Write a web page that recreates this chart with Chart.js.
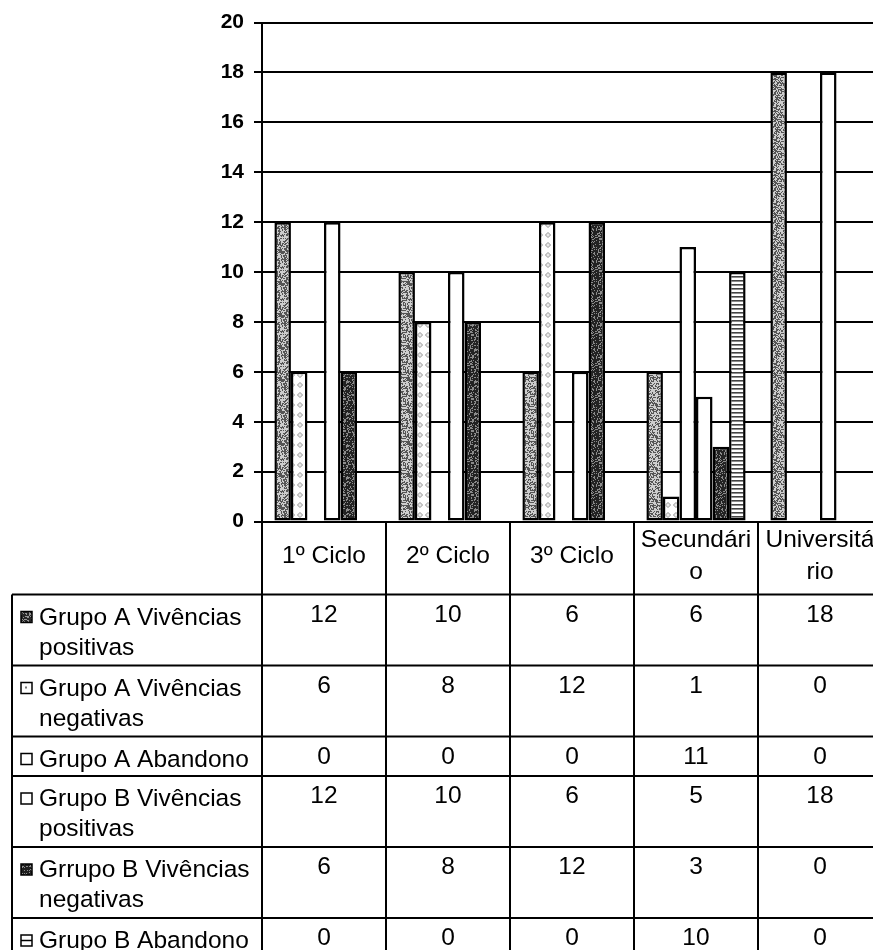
<!DOCTYPE html>
<html>
<head>
<meta charset="utf-8">
<script src="https://cdn.jsdelivr.net/npm/chart.js@4/dist/chart.umd.min.js"></script>
<style>
  html, body { margin: 0; padding: 0; background: #fff; overflow: hidden; width: 873px; height: 950px; }
  canvas { display: block; }
</style>
</head>
<body>
<canvas id="chart" width="900" height="950"></canvas>
<script>
// Categories (header cells of the data table, already split into lines)
const categories = [['1º Ciclo'], ['2º Ciclo'], ['3º Ciclo'], ['Secundári', 'o'], ['Universitá', 'rio']];

// Series names as printed in the table (line by line)
const seriesNames = [
  ['Grupo A Vivências', 'positivas'],
  ['Grupo A Vivências', 'negativas'],
  ['Grupo A Abandono'],
  ['Grupo B Vivências', 'positivas'],
  ['Grrupo B Vivências', 'negativas'],
  ['Grupo B Abandono']
];

// Values per series
const grupoAPositivas = [12, 10, 6, 6, 18];
const grupoANegativas = [6, 8, 12, 1, 0];
const grupoAAbandono  = [0, 0, 0, 11, 0];
const grupoBPositivas = [12, 10, 6, 5, 18];
const grupoBNegativas = [6, 8, 12, 3, 0];
const grupoBAbandono  = [0, 0, 0, 10, 0];

// Value axis
const yMin = 0, yMax = 20, yStep = 2;

const seriesValues = [grupoAPositivas, grupoANegativas, grupoAAbandono,
                      grupoBPositivas, grupoBNegativas, grupoBAbandono];

// ---- fill textures ----
function tileCanvas(w, h) {
  const c = document.createElement('canvas');
  c.width = w; c.height = h;
  return c;
}
function hash(x, y, s) {
  let h = (x * 374761393 + y * 668265263 + s * 982451653) | 0;
  h = Math.imul(h ^ (h >>> 13), 1274126177);
  return ((h ^ (h >>> 16)) >>> 0) / 4294967296;
}
function stipple(pDark, dark, light, seed) {
  const n = 32, c = tileCanvas(n, n), g = c.getContext('2d');
  const img = g.createImageData(n, n);
  for (let y = 0; y < n; y++) for (let x = 0; x < n; x++) {
    const v = hash(x, y, seed) < pDark ? dark : light;
    const i = (y * n + x) * 4;
    img.data[i] = img.data[i + 1] = img.data[i + 2] = v;
    img.data[i + 3] = 255;
  }
  g.putImageData(img, 0, 0);
  return g.createPattern(c, 'repeat');
}
function diamonds() {
  const c = tileCanvas(8, 10), g = c.getContext('2d');
  g.fillStyle = '#fff'; g.fillRect(0, 0, 8, 10);
  g.strokeStyle = '#8a8a8a'; g.lineWidth = 1;
  g.beginPath();
  g.moveTo(4, 2.5); g.lineTo(6.5, 5); g.lineTo(4, 7.5); g.lineTo(1.5, 5); g.closePath();
  g.stroke();
  g.fillStyle = '#aaa'; g.fillRect(3.5, 4.5, 1, 1);
  return g.createPattern(c, 'repeat');
}
function stripes() {
  const c = tileCanvas(4, 4), g = c.getContext('2d');
  g.fillStyle = '#fff'; g.fillRect(0, 0, 4, 4);
  g.fillStyle = '#444'; g.fillRect(0, 0, 4, 1.6);
  return g.createPattern(c, 'repeat');
}

const fills = [
  stipple(0.5, 85, 205, 1),
  diamonds(),
  '#ffffff',
  '#ffffff',
  stipple(0.75, 35, 140, 2),
  stripes()
];
const iconFills = [
  stipple(0.7, 40, 150, 3),
  '#ffffff',
  '#ffffff',
  '#ffffff',
  stipple(0.75, 30, 140, 4),
  '#ffffff'
];

const FONT = '"Liberation Sans", Arial, sans-serif';

// ---- data table under the plot ----
const dataTable = {
  id: 'dataTable',
  afterDraw(chart) {
    const ctx = chart.ctx;
    const area = chart.chartArea;
    const xs = chart.scales.x;
    const colW = (area.right - area.left) / categories.length;
    const top = area.bottom;
    const headerBottom = top + 73;
    const boxLeft = 12;
    const lineGap = 31.5;
    const rowH = seriesNames.map(l => 8 + lineGap * l.length);
    const endY = chart.height + 20;

    ctx.save();
    ctx.strokeStyle = '#000';
    ctx.lineWidth = 2;
    ctx.fillStyle = '#000';
    ctx.font = '24.5px ' + FONT;

    // vertical column lines
    for (let i = 0; i <= categories.length; i++) {
      const x = Math.round(area.left + i * colW);
      ctx.beginPath(); ctx.moveTo(x, top); ctx.lineTo(x, endY); ctx.stroke();
    }
    // left box border
    ctx.beginPath(); ctx.moveTo(boxLeft, headerBottom); ctx.lineTo(boxLeft, endY); ctx.stroke();

    // header labels
    ctx.textAlign = 'center';
    ctx.textBaseline = 'alphabetic';
    const hc = (top + headerBottom) / 2;
    categories.forEach((lines, i) => {
      const cx = xs.getPixelForValue(i);
      const first = hc - 3.5 + 8.6 - (lines.length - 1) * lineGap / 2;
      lines.forEach((t, k) => ctx.fillText(t, cx, first + k * lineGap));
    });

    // rows
    let y = headerBottom;
    ctx.beginPath(); ctx.moveTo(boxLeft, y); ctx.lineTo(area.right, y); ctx.stroke();
    seriesNames.forEach((lines, r) => {
      // legend key
      ctx.fillStyle = iconFills[r];
      ctx.fillRect(21, y + 17, 11, 11);
      ctx.lineWidth = 1.5;
      ctx.strokeRect(21, y + 17, 11, 11);
      if (r === 1) { ctx.fillStyle = '#777'; ctx.fillRect(25, y + 21, 2, 2); }
      if (r === 5) { ctx.beginPath(); ctx.moveTo(21, y + 22.5); ctx.lineTo(32, y + 22.5); ctx.stroke(); }
      ctx.lineWidth = 2;

      // name
      ctx.fillStyle = '#000';
      ctx.textAlign = 'left';
      lines.forEach((t, k) => ctx.fillText(t, 39, y + 30 + k * 30));

      // values
      ctx.textAlign = 'center';
      seriesValues[r].forEach((v, i) => ctx.fillText(String(v), xs.getPixelForValue(i), y + 27));

      y += rowH[r];
      ctx.beginPath(); ctx.moveTo(boxLeft, y); ctx.lineTo(area.right, y); ctx.stroke();
    });
    ctx.restore();
  }
};

new Chart(document.getElementById('chart'), {
  type: 'bar',
  data: {
    labels: categories.map(l => l.join('')),
    datasets: seriesNames.map((n, i) => ({
      label: n.join(' '),
      data: seriesValues[i],
      backgroundColor: fills[i],
      borderColor: '#000',
      borderWidth: 2.5,
      borderSkipped: false,
      categoryPercentage: 0.8,
      barPercentage: 1.0
    }))
  },
  options: {
    responsive: false,
    animation: false,
    events: [],
    layout: { padding: { left: 0, right: 18, top: 21, bottom: 428.5 } },
    plugins: { legend: { display: false }, tooltip: { enabled: false } },
    scales: {
      x: { display: false },
      y: {
        min: yMin, max: yMax,
        afterFit(scale) { scale.width = 262; },
        ticks: {
          stepSize: yStep,
          color: '#000',
          padding: 10,
          font: { family: FONT, size: 21, weight: 'bold' }
        },
        grid: { color: '#000', lineWidth: 2, tickLength: 8, tickColor: '#000', drawTicks: true },
        border: { color: '#000', width: 2 }
      }
    }
  },
  plugins: [dataTable]
});
</script>
</body>
</html>
